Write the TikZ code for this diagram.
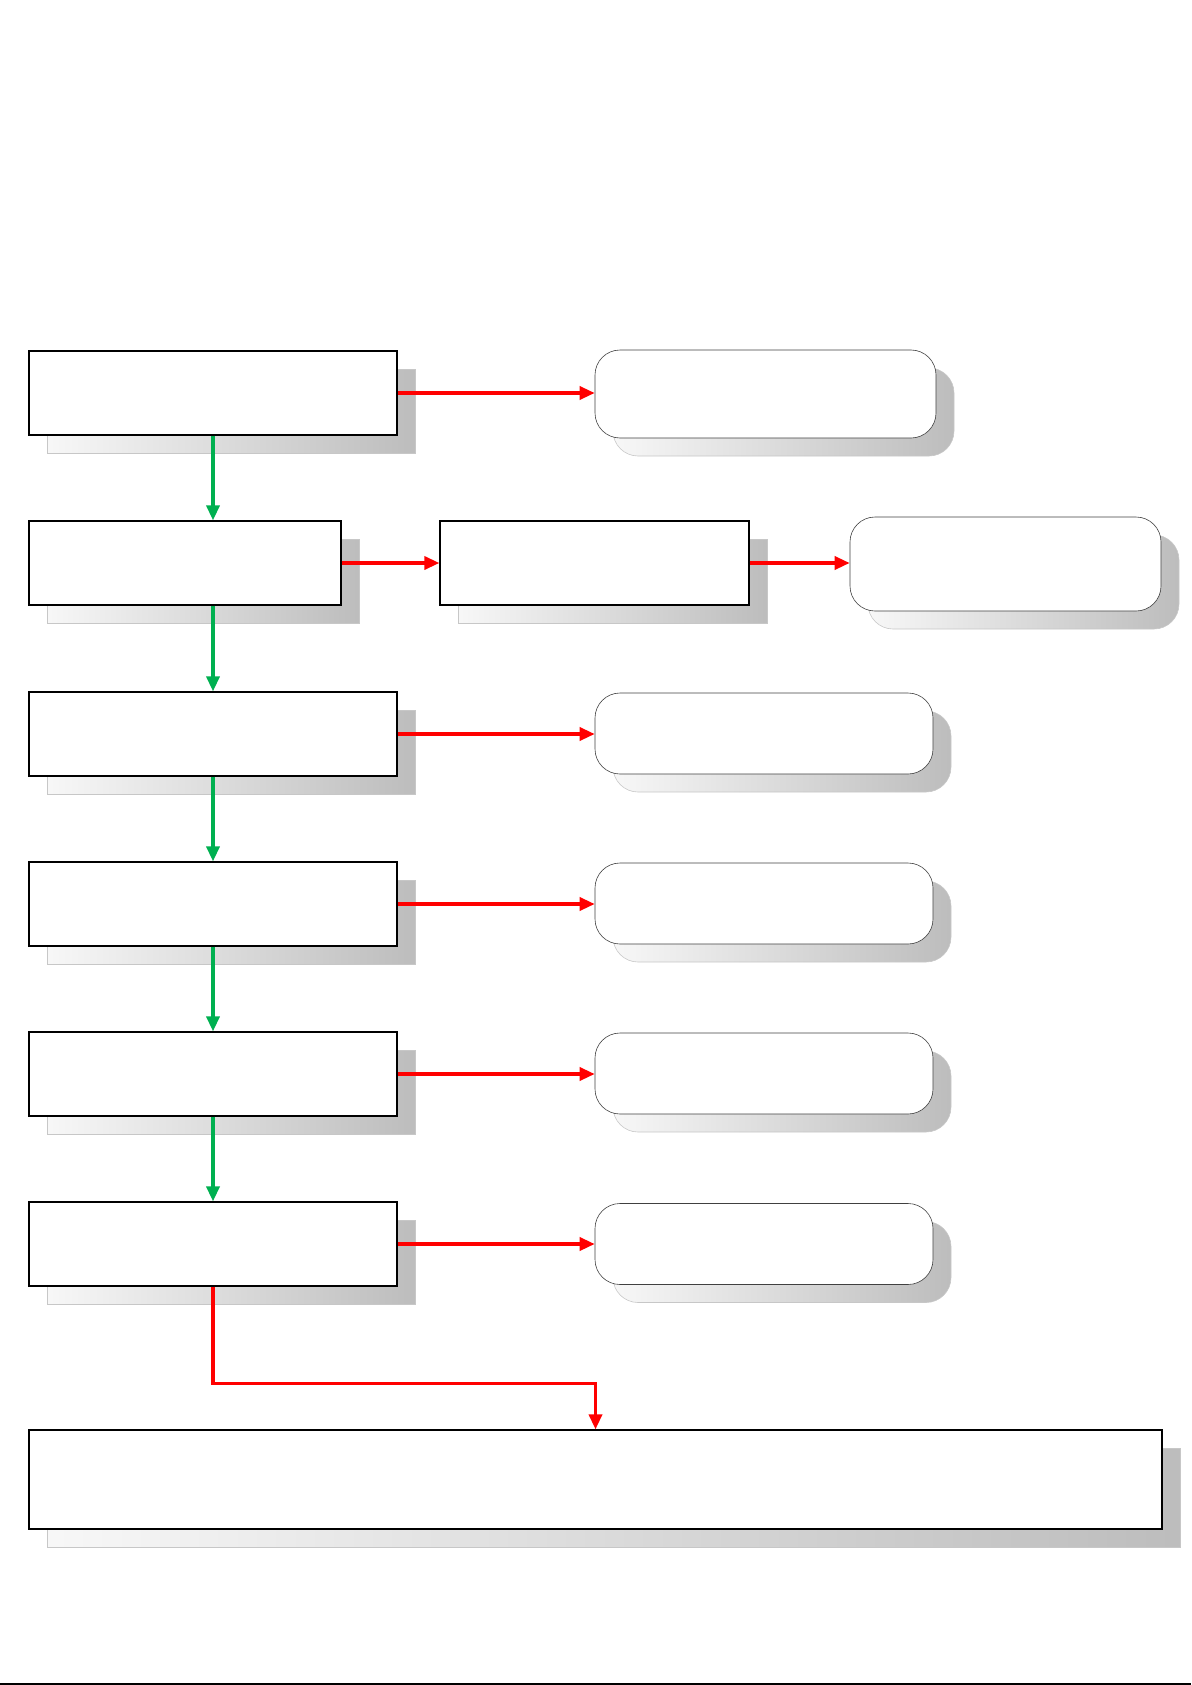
\documentclass[tikz,border=0pt]{standalone}
\usepackage{xcolor}
\usepackage{tikz}
\usetikzlibrary{arrows.meta,positioning,shadows,calc}
\definecolor{flowgreen}{RGB}{0,176,80}
\definecolor{flowred}{RGB}{255,0,0}
\definecolor{edgegray}{RGB}{64,64,64}

\begin{document}
\begin{tikzpicture}[
  x=1pt,y=-1pt,
  boxshadow/.style={general shadow={shadow xshift=18pt,shadow yshift=-18pt,left color=black!3,right color=black!26,draw=black!22,line width=.6pt}},
  stage/.style={rectangle,draw=black,line width=1.2pt,fill=white,boxshadow,minimum width=368pt,minimum height=84pt,inner sep=0pt},
  result/.style={rectangle,rounded corners=25pt,draw=edgegray,line width=.6pt,fill=white,boxshadow,minimum width=338pt,minimum height=81pt,inner sep=0pt},
  okarrow/.style={-{Triangle[length=15pt,width=13pt]},draw=flowgreen,line width=3.4pt},
  failarrow/.style={-{Triangle[length=15pt,width=13pt]},draw=flowred,line width=3.4pt}
]
\useasboundingbox (0,0) rectangle (1191,1685);
\node[stage] (s1) at (213,393) {};
\node[stage,minimum width=312pt] (s2) at (185,563) {};
\node[stage,minimum width=309pt] (m2) at (594.5,563) {};
\node[stage] (s3) at (213,734) {};
\node[stage] (s4) at (213,904) {};
\node[stage] (s5) at (213,1074) {};
\node[stage] (s6) at (213,1244) {};
\node[result,minimum width=341pt,minimum height=88pt] (r1) at (765.5,394) {};
\node[result,minimum width=311pt,minimum height=94pt] (r2) at (1005.5,564) {};
\node[result] (r3) at (764,733.5) {};
\node[result] (r4) at (764,903.5) {};
\node[result] (r5) at (764,1073.5) {};
\node[result] (r6) at (764,1244) {};
\node[stage,minimum width=1133pt,minimum height=99pt] (final) at (595.5,1479.5) {};
% main sequence
\draw[okarrow] (s1.south) -- (s1.south |- s2.north);
\draw[okarrow] (s2.south -| s1) -- (s3.north);
\draw[okarrow] (s3) -- (s4);
\draw[okarrow] (s4) -- (s5);
\draw[okarrow] (s5) -- (s6);
% branches
\draw[failarrow] (s1.east) -- (s1.east -| r1.west);
\draw[failarrow] (s2.east) -- (m2.west);
\draw[failarrow] (m2.east) -- (m2.east -| r2.west);
\draw[failarrow] (s3.east) -- (s3.east -| r3.west);
\draw[failarrow] (s4.east) -- (s4.east -| r4.west);
\draw[failarrow] (s5.east) -- (s5.east -| r5.west);
\draw[failarrow] (s6.east) -- (s6.east -| r6.west);
\draw[failarrow] (s6.south) -- ++(0,97) -| (final.north);
\draw[line width=1.5pt] (0,1684) -- (1191,1684);
\end{tikzpicture}
\end{document}
